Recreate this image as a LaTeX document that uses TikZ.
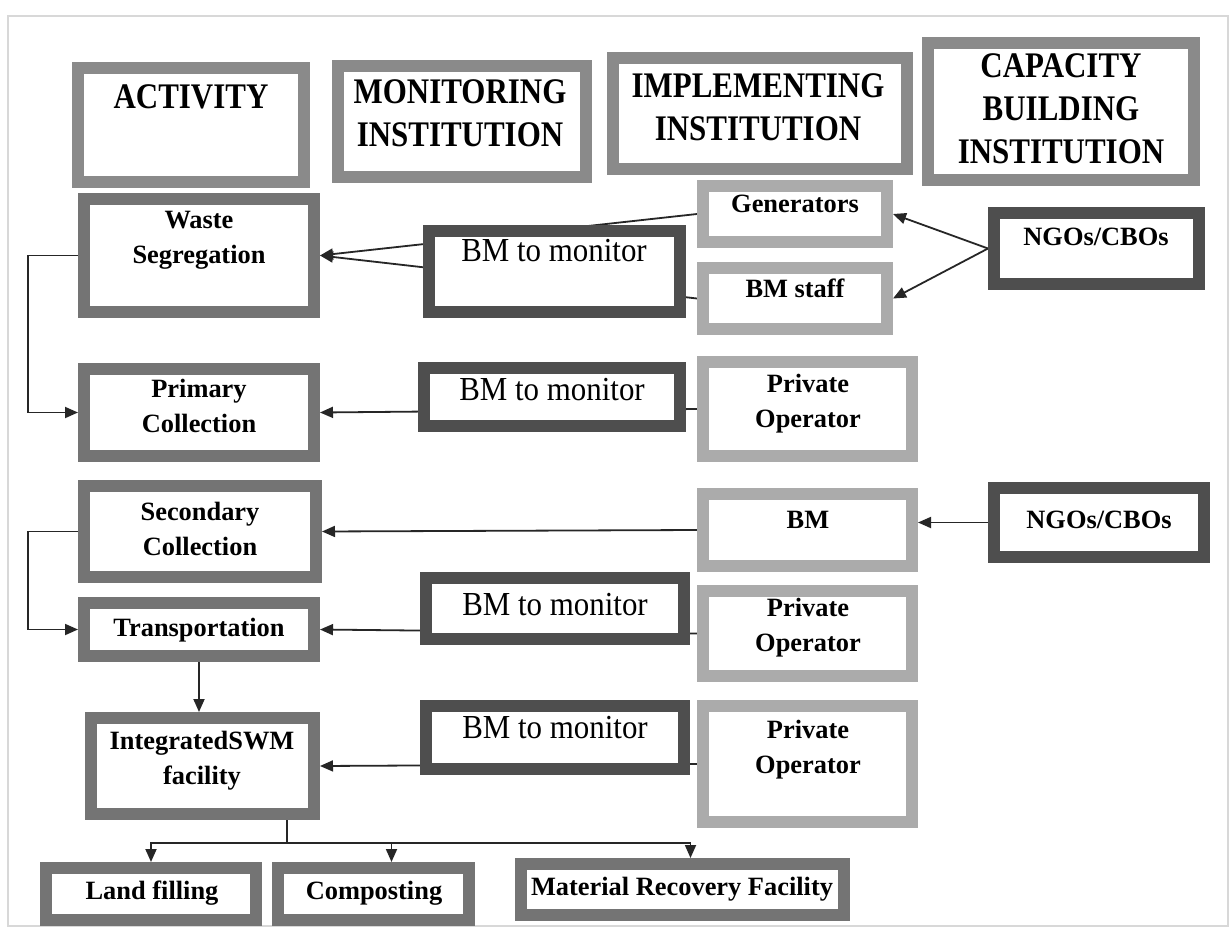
\documentclass[tikz,border=0pt]{standalone}
\usepackage{fontspec}
\setmainfont{Liberation Serif}
\newfontfamily\hdrfont{Liberation Serif}[FakeStretch=0.86]
\newfontfamily\monfont{Liberation Serif}[FakeStretch=0.92]
\usetikzlibrary{arrows.meta}
\pgfdeclarelayer{page}
\pgfdeclarelayer{bg}
\pgfsetlayers{page,bg,main}

\definecolor{frhead}{HTML}{8A8A8A}
\definecolor{fract}{HTML}{747474}
\definecolor{frdark}{HTML}{4E4E4E}
\definecolor{frlight}{HTML}{ABABAB}
\definecolor{pageedge}{HTML}{D8D8D8}

\tikzset{
  frbox/.style={rectangle, draw, line width=6pt, fill=white, inner sep=0pt, outer sep=auto},
  headbox/.style={frbox, draw=frhead},
  actbox/.style={frbox, draw=fract},
  monbox/.style={frbox, draw=frdark},
  implbox/.style={frbox, draw=frlight},
  hdrtxt/.style={font=\hdrfont\fontsize{18}{21.5}\selectfont\bfseries, align=center, inner sep=0pt},
  acttxt/.style={font=\fontsize{13.2}{17.5}\selectfont\bfseries, align=center, inner sep=0pt},
  montxt/.style={font=\monfont\fontsize{16.8}{20}\selectfont, align=center, inner sep=0pt},
  link/.style={line width=0.9pt, draw=black!85},
  arr/.style={link, -{Triangle[length=6.5pt,width=5.5pt]}},
}

% framed box from outer corner (x1,y1) to (x2,y2), in pixel units
\newcommand\fbx[6]{%
  \pgfmathsetmacro\fbcx{(#3+#5)/2}%
  \pgfmathsetmacro\fbcy{(#4+#6)/2}%
  \pgfmathsetmacro\fbw{(#5-#3)/2-6}%
  \pgfmathsetmacro\fbh{(#6-#4)/2-6}%
  \node[#2, minimum width=\fbw pt, minimum height=\fbh pt] (#1) at (\fbcx,\fbcy) {};}

\begin{document}
\begin{tikzpicture}[x=0.5pt,y=-0.5pt]
  \useasboundingbox (0,0) rectangle (1231,931);
  \begin{pgfonlayer}{page}
    \fill[white] (0,0) rectangle (1231,931);
    \draw[pageedge, line width=0.6pt] (8,16) rectangle (1228,926);
  \end{pgfonlayer}

  % column headings
  \fbx{act}{headbox}{72}{62}{310}{188}
  \fbx{mon}{headbox}{332}{60}{592}{183}
  \fbx{imp}{headbox}{607}{52}{913}{175}
  \fbx{cap}{headbox}{922}{37}{1200}{186}
  \node[hdrtxt] (act-t) at (191,97) {ACTIVITY};
  \node[hdrtxt] (mon-t) at (460,113) {MONITORING\\INSTITUTION};
  \node[hdrtxt] (imp-t) at (758,107) {IMPLEMENTING\\INSTITUTION};
  \node[hdrtxt] (cap-t) at (1061,109) {CAPACITY\\BUILDING\\INSTITUTION};

  % activities
  \fbx{ws}{actbox}{78}{193}{320}{318}
  \fbx{pc}{actbox}{78}{363}{320}{462}
  \fbx{sc}{actbox}{78}{480}{322}{583}
  \fbx{tr}{actbox}{78}{597}{320}{662}
  \fbx{isw}{actbox}{85}{712}{320}{820}
  \fbx{lf}{actbox}{40}{862}{262}{926}
  \fbx{comp}{actbox}{272}{862}{475}{926}
  \fbx{mrf}{actbox}{515}{858}{850}{921}
  \node[acttxt] (ws-t) at (199,240) {Waste\\Segregation};
  \node[acttxt] (pc-t) at (199,406) {Primary\\Collection};
  \node[acttxt] (sc-t) at (200,529) {Secondary\\Collection};
  \node[acttxt] (tr-t) at (199,630) {Transportation};
  \node[acttxt] (isw-t) at (202,761) {IntegratedSWM\\facility};
  \node[acttxt] (lf-t) at (152,893) {Land filling};
  \node[acttxt] (comp-t) at (374,893) {Composting};
  \node[acttxt] (mrf-t) at (682,889) {Material Recovery Facility};

  % monitoring
  \fbx{bma}{monbox}{423}{225}{686}{318}
  \fbx{bmb}{monbox}{418}{362}{686}{432}
  \fbx{bmc}{monbox}{420}{572}{690}{645}
  \fbx{bmd}{monbox}{420}{700}{690}{775}
  \node[montxt] (bma-t) at (554,251) {BM to monitor};
  \node[montxt] (bmb-t) at (552,390) {BM to monitor};
  \node[montxt] (bmc-t) at (555,605) {BM to monitor};
  \node[montxt] (bmd-t) at (555,728) {BM to monitor};

  % implementing
  \fbx{gen}{implbox}{697}{180}{893}{248}
  \fbx{bms}{implbox}{697}{262}{893}{335}
  \fbx{poa}{implbox}{697}{356}{918}{462}
  \fbx{bm}{implbox}{697}{488}{918}{572}
  \fbx{pob}{implbox}{697}{585}{918}{682}
  \fbx{poc}{implbox}{697}{700}{918}{828}
  \node[acttxt] (gen-t) at (795,204) {Generators};
  \node[acttxt] (bms-t) at (795,288) {BM staff};
  \node[acttxt] (poa-t) at (808,404) {Private\\Operator};
  \node[acttxt] (bm-t) at (808,520) {BM};
  \node[acttxt] (pob-t) at (808,628) {Private\\Operator};
  \node[acttxt] (poc-t) at (808,750) {Private\\Operator};

  % capacity building
  \fbx{ngoa}{monbox}{988}{207}{1205}{290}
  \fbx{ngob}{monbox}{988}{482}{1210}{563}
  \node[acttxt] (ngoa-t) at (1096,237) {NGOs/CBOs};
  \node[acttxt] (ngob-t) at (1099,520) {NGOs/CBOs};

  \coordinate (split) at (287,843);

  % connectors run behind the boxes
  \begin{pgfonlayer}{bg}
    \draw[arr] (ws.west) -- ++(-50,0) |- (pc.west);
    \draw[arr] (sc.west) -- ++(-50,0) |- (tr.west);
    \draw[arr] (gen.west) -- (ws.east);
    \draw[arr] (bms.west) -- (ws.east);
    \draw[arr] (ngoa.west) -- (gen.east);
    \draw[arr] (ngoa.west) -- (bms.east);
    \draw[arr] (poa.west) -- (pc.east);
    \draw[arr] (bm.west) -- (sc.east);
    \draw[arr] (ngob.west) -- (ngob.west -| bm.east);
    \draw[arr] (pob.west) -- (tr.east);
    \draw[arr] (tr.south) -- (tr.south |- isw.north);
    \draw[arr] (poc.west) -- (isw.east);
    \draw[link] (split |- isw.south) -- (split);
    \draw[arr] (split) -| (lf.north);
    \draw[arr] (split) -| ([xshift=9pt]comp.north);
    \draw[arr] (split) -| ([xshift=4pt]mrf.north);
  \end{pgfonlayer}
\end{tikzpicture}
\end{document}
